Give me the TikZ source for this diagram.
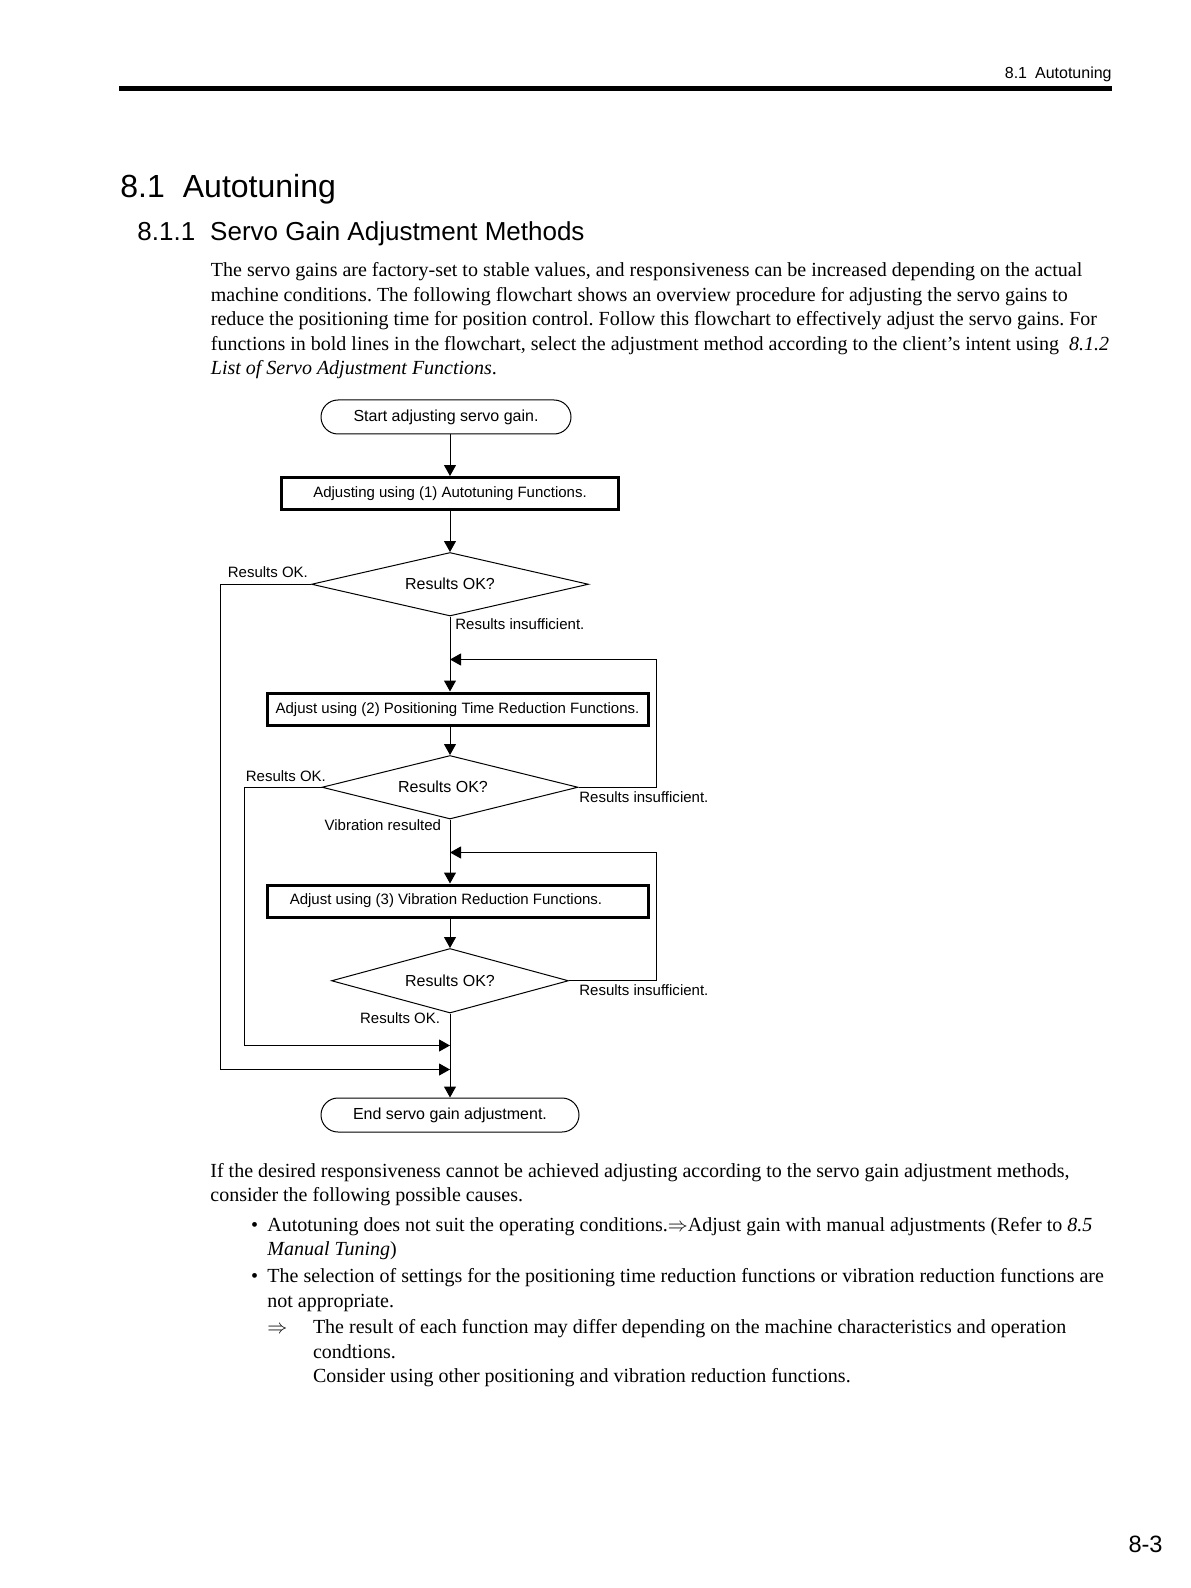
\documentclass[tikz,border=0pt]{standalone}
\usepackage{fontspec}
\setmainfont{Liberation Serif}
\newfontfamily\arial{Liberation Sans}
\usetikzlibrary{shapes.geometric,arrows.meta}
\frenchspacing
\tikzset{
  term/.style={draw, line width=0.5pt, rounded corners=8.5pt, inner sep=0pt, minimum height=17pt, font=\arial\fontsize{8}{9.6}\selectfont},
  procbox/.style={draw, line width=1.5pt, inner sep=0pt, font=\arial\fontsize{7.5}{9}\selectfont},
  decision/.style={draw, diamond, aspect=4, line width=0.5pt, inner sep=0pt, font=\arial\fontsize{8}{9.6}\selectfont},
  lbl/.style={font=\arial\fontsize{7.5}{9}\selectfont, inner sep=0pt},
  bodytext/.style={font=\fontsize{10}{12.2}\selectfont\frenchspacing, inner sep=0pt, anchor=base west},
  arr/.style={-{Triangle[length=5.5pt,width=6pt]}, line width=0.5pt},
}
\begin{document}
\begin{tikzpicture}[x=0.5pt,y=-0.5pt]
\useasboundingbox (0,0) rectangle (1190,1588);
\fill[white] (0,0) rectangle (1190,1588);

% page header
\node[font=\arial\fontsize{8}{9.6}\selectfont, inner sep=0pt, anchor=base east] (hdr) at (1112,78.5) {8.1\hspace{4pt}Autotuning};
\fill[black] (119,86) rectangle (1112,91.5);

% headings
\node[font=\arial\fontsize{16}{19}\selectfont, inner sep=0pt, anchor=base west] (title) at (120,197.5) {8.1\hspace{9pt}Autotuning};
\node[font=\arial\fontsize{13}{15.5}\selectfont, inner sep=0pt, anchor=base west] (subtitle) at (137,240.5) {8.1.1\hspace{7.5pt}Servo Gain Adjustment Methods};

% introduction
\node[bodytext] (p1) at (210.5,277) {The servo gains are factory-set to stable values, and responsiveness can be increased depending on the actual};
\node[bodytext] (p2) at (210.5,301.4) {machine conditions. The following flowchart shows an overview procedure for adjusting the servo gains to};
\node[bodytext] (p3) at (210.5,325.7) {reduce the positioning time for position control. Follow this flowchart to effectively adjust the servo gains. For};
\node[bodytext] (p4) at (210.5,350.1) {functions in bold lines in the flowchart, select the adjustment method according to the client’s intent using \ \textit{8.1.2}};
\node[bodytext] (p5) at (210.5,374.4) {\textit{List of Servo Adjustment Functions}.};

% flowchart
\node[term, minimum width=125pt] (start) at (446,417) {Start adjusting servo gain.};
\node[procbox, minimum width=168.5pt, minimum height=16pt] (b1) at (450,493.5) {Adjusting using (1) Autotuning Functions.};
\node[decision, minimum width=138.5pt, minimum height=31.75pt] (d1) at (450,584.25) {Results OK?};
\node[procbox, minimum width=190.5pt, minimum height=16.25pt] (b2) at (457.5,709.25) {Adjust using (2) Positioning Time Reduction Functions.};
\node[decision, minimum width=128pt, minimum height=31.75pt] (d2) at (450,787.25) {\hspace*{-7pt}Results OK?};
\node[procbox, minimum width=190.5pt, minimum height=16pt] (b3) at (457.5,901) {\hspace*{-11.5pt}Adjust using (3) Vibration Reduction Functions.};
\node[decision, minimum width=118.5pt, minimum height=32.25pt] (d3) at (450,980.75) {Results OK?};
\node[term, minimum width=129pt] (end) at (450,1115) {End servo gain adjustment.};

\coordinate (fb1) at (450,659.5);
\coordinate (r1) at (656,659.5);
\coordinate (fb2) at (450,852.5);
\coordinate (r2) at (656,852.5);
\coordinate (m1) at (450,1069.5);
\coordinate (l1) at (220,1069.5);
\coordinate (m2) at (450,1045.5);
\coordinate (l2) at (244.5,1045.5);

\draw[arr] (start.south -| b1.north) -- (b1.north);
\draw[arr] (b1.south -| d1.north) -- (d1.north);
\draw[arr] (d1.south) -- (d1.south |- b2.north);
\draw[arr] (b2.south -| d2.north) -- (d2.north);
\draw[arr] (d2.south) -- (d2.south |- b3.north);
\draw[arr] (b3.south -| d3.north) -- (d3.north);
\draw[arr] (d3.south) -- (end.north);

\draw[arr] (d2.east) -| (r1) -- (fb1);
\draw[arr] (d3.east) -| (r2) -- (fb2);
\draw[arr] (d1.west) -| (l1) -- (m1);
\draw[arr] (d2.west) -| (l2) -- (m2);

\node[lbl, anchor=base west] (lok1) at (227.5,577) {Results OK.};
\node[lbl, anchor=base west] (lin1) at (455,629.5) {Results insufficient.};
\node[lbl, anchor=base west] (lok2) at (245.5,781.5) {Results OK.};
\node[lbl, anchor=base west] (lin2) at (579,802) {Results insufficient.};
\node[lbl, anchor=base east] (lvib) at (441.5,830.5) {Vibration resulted};
\node[lbl, anchor=base west] (lin3) at (579,995.5) {Results insufficient.};
\node[lbl, anchor=base east] (lok3) at (440.5,1023.3) {Results OK.};

% causes
\node[bodytext] (q1) at (210,1177.3) {If the desired responsiveness cannot be achieved adjusting according to the servo gain adjustment methods,};
\node[bodytext] (q2) at (210,1201.7) {consider the following possible causes.};
\node[bodytext] (bul1) at (250.7,1231.1) {•};
\node[bodytext] (q3) at (267,1231.1) {Autotuning does not suit the operating conditions.$\Rightarrow$Adjust gain with manual adjustments (Refer to \textit{8.5}};
\node[bodytext] (q4) at (267,1255.5) {\textit{Manual Tuning})};
\node[bodytext] (bul2) at (250.7,1282.9) {•};
\node[bodytext] (q5) at (267,1282.9) {The selection of settings for the positioning time reduction functions or vibration reduction functions are};
\node[bodytext] (q6) at (267,1307.2) {not appropriate.};
\node[bodytext] (arrw) at (267,1333.6) {$\Rightarrow$};
\node[bodytext] (q7) at (312.6,1333.6) {The result of each function may differ depending on the machine characteristics and operation};
\node[bodytext] (q8) at (312.6,1358) {condtions.};
\node[bodytext] (q9) at (312.6,1382.3) {Consider using other positioning and vibration reduction functions.};

% page number
\node[font=\arial\fontsize{11.8}{14}\selectfont, inner sep=0pt, anchor=base east] (pgno) at (1163,1552) {8-3};
\end{tikzpicture}
\end{document}
